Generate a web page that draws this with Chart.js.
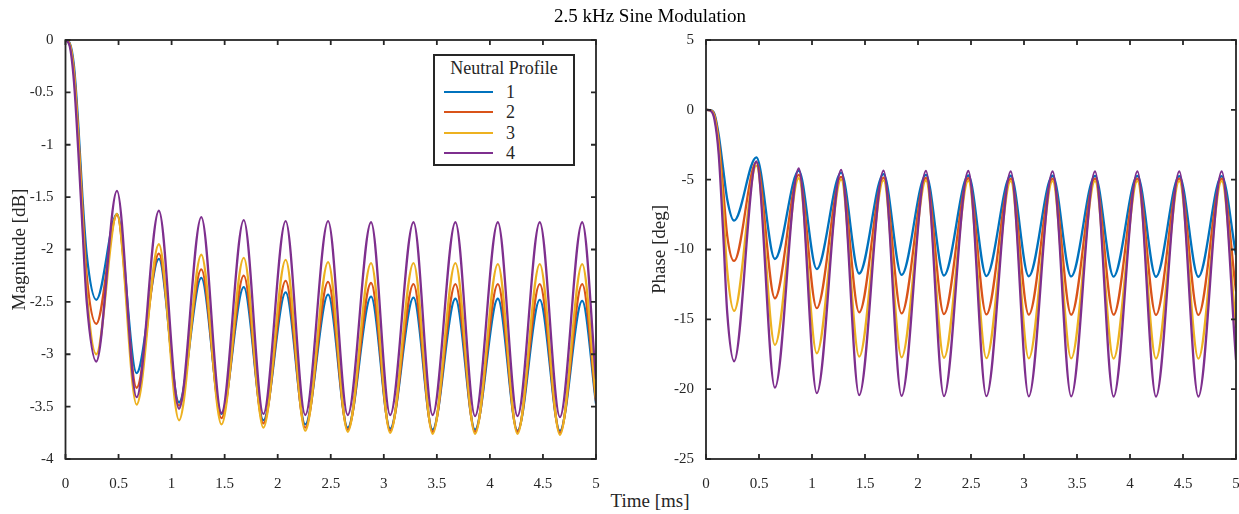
<!DOCTYPE html>
<html>
<head>
<meta charset="utf-8">
<title>2.5 kHz Sine Modulation</title>
<script src="https://cdn.jsdelivr.net/npm/chart.js@4/dist/chart.umd.min.js"></script>
<style>
  body { margin: 0; background: #fff; width: 1239px; height: 514px; overflow: hidden; position: relative; font-family: 'Liberation Serif', 'Times New Roman', serif; color: #262626; }
  canvas { position: absolute; top: 0; }
  #magChart { left: 0; }
  #phaseChart { left: 640px; }
  .txt { position: absolute; white-space: nowrap; transform: translate(-50%, -50%); }
  #title { left: 650px; top: 16px; font-size: 19px; color: #000; }
  #xlabel { left: 650px; top: 501px; font-size: 19px; }
  #legend { position: absolute; left: 433px; top: 54px; width: 142px; height: 112px; box-sizing: border-box; border: 2px solid #262626; background: #fff; }
  #legend .head { position: absolute; left: 0; width: 100%; top: 2px; text-align: center; font-size: 18px; }
  #legend .row { position: absolute; left: 0; width: 100%; height: 20px; }
  #legend .sw { position: absolute; left: 9px; width: 49px; top: 9px; height: 2px; }
  #legend .lab { position: absolute; left: 71px; top: 0; font-size: 18px; line-height: 20px; }
</style>
</head>
<body>
<canvas id="magChart" width="600" height="490"></canvas>
<canvas id="phaseChart" width="599" height="490"></canvas>
<div class="txt" id="title">2.5 kHz Sine Modulation</div>
<div class="txt" id="xlabel">Time [ms]</div>
<div id="legend"></div>
<script>
// 시간축 (ms) - 극값 위치 위주로 읽음
const timeMag = [0, 0.04, 0.08, 0.12, 0.16, 0.2, 0.29, 0.485, 0.67, 0.88, 1.07, 1.28, 1.47, 1.68, 1.865, 2.075, 2.26, 2.475, 2.66, 2.88, 3.06, 3.28, 3.46, 3.675, 3.86, 4.075, 4.26, 4.47, 4.66, 4.87, 5.0];
const timePhase = [0, 0.04, 0.08, 0.12, 0.16, 0.2, 0.265, 0.475, 0.65, 0.875, 1.045, 1.275, 1.445, 1.675, 1.845, 2.075, 2.245, 2.475, 2.645, 2.875, 3.045, 3.27, 3.445, 3.67, 3.845, 4.07, 4.245, 4.465, 4.645, 4.865, 5.0];

// Magnitude [dB]
const mag1 = [0, -0.03, -0.25, -0.8, -1.5, -2.05, -2.48, -1.66, -3.18, -2.09, -3.46, -2.27, -3.57, -2.36, -3.63, -2.41, -3.67, -2.43, -3.70, -2.45, -3.71, -2.46, -3.72, -2.47, -3.72, -2.47, -3.73, -2.48, -3.73, -2.49, -3.47];
const mag2 = [0, -0.04, -0.3, -0.88, -1.6, -2.25, -2.71, -1.67, -3.32, -2.04, -3.49, -2.19, -3.61, -2.25, -3.66, -2.30, -3.70, -2.31, -3.72, -2.32, -3.73, -2.33, -3.74, -2.33, -3.74, -2.33, -3.74, -2.33, -3.75, -2.33, -3.45];
const mag3 = [0, -0.04, -0.32, -0.92, -1.68, -2.4, -3.0, -1.66, -3.48, -1.95, -3.63, -2.05, -3.67, -2.08, -3.70, -2.10, -3.73, -2.12, -3.74, -2.13, -3.75, -2.13, -3.76, -2.13, -3.76, -2.14, -3.76, -2.14, -3.77, -2.14, -3.42];
const mag4 = [0, -0.06, -0.4, -1.05, -1.8, -2.5, -3.07, -1.44, -3.41, -1.63, -3.52, -1.69, -3.56, -1.72, -3.57, -1.73, -3.58, -1.73, -3.58, -1.74, -3.58, -1.74, -3.58, -1.74, -3.59, -1.74, -3.59, -1.74, -3.60, -1.74, -3.24];

// Phase [deg]
const phase1 = [0, -0.02, -0.3, -1.8, -4.1, -6.4, -7.93, -3.4, -10.68, -4.35, -11.4, -4.5, -11.72, -4.6, -11.82, -4.65, -11.86, -4.7, -11.9, -4.72, -11.92, -4.72, -11.93, -4.73, -11.94, -4.73, -11.95, -4.74, -11.95, -4.74, -10.4];
const phase2 = [0, -0.03, -0.4, -2.2, -5.5, -9.0, -10.82, -3.75, -13.49, -4.66, -14.2, -4.8, -14.5, -4.85, -14.58, -4.88, -14.62, -4.9, -14.65, -4.92, -14.66, -4.92, -14.67, -4.93, -14.67, -4.93, -14.68, -4.93, -14.68, -4.93, -13.0];
const phase3 = [0, -0.04, -0.5, -2.6, -6.8, -11.5, -14.4, -4.0, -16.83, -4.9, -17.43, -5.0, -17.67, -5.05, -17.72, -5.07, -17.75, -5.08, -17.78, -5.1, -17.8, -5.1, -17.8, -5.1, -17.81, -5.1, -17.81, -5.1, -17.82, -5.1, -15.6];
const phase4 = [0, -0.05, -0.7, -3.2, -8.5, -14.5, -18.0, -3.7, -19.89, -4.2, -20.29, -4.3, -20.43, -4.35, -20.48, -4.37, -20.5, -4.38, -20.5, -4.4, -20.52, -4.4, -20.52, -4.4, -20.53, -4.4, -20.53, -4.4, -20.53, -4.4, -17.9];

const profileLabels = ['1', '2', '3', '4'];
const colors = ['#0072BD', '#D95319', '#EDB120', '#7E2F8E'];

const FONT = "'Liberation Serif', 'Times New Roman', serif";
const INK = '#262626';

// MATLAB 스타일 박스 + 안쪽 눈금
const boxTicks = {
    id: 'boxTicks',
    afterDraw(chart) {
        const { ctx, chartArea: a, scales: { x, y } } = chart;
        ctx.save();
        ctx.strokeStyle = INK;
        ctx.lineWidth = 1.8;
        ctx.beginPath();
        x.ticks.forEach(t => {
            const px = x.getPixelForValue(t.value);
            ctx.moveTo(px, a.bottom); ctx.lineTo(px, a.bottom - 5);
            ctx.moveTo(px, a.top); ctx.lineTo(px, a.top + 5);
        });
        y.ticks.forEach(t => {
            const py = y.getPixelForValue(t.value);
            ctx.moveTo(a.left, py); ctx.lineTo(a.left + 5, py);
            ctx.moveTo(a.right, py); ctx.lineTo(a.right - 5, py);
        });
        ctx.stroke();
        ctx.strokeRect(a.left, a.top, a.right - a.left, a.bottom - a.top);
        ctx.restore();
    }
};

// 0.5 -> "0.5", 1.0 -> "1"
const tickText = v => String(Number(v.toFixed(2)));

function makeDatasets(times, series) {
    return series.map((vals, i) => ({
        label: profileLabels[i],
        data: times.map((t, j) => ({ x: t, y: vals[j] })),
        borderColor: colors[i],
        backgroundColor: colors[i],
        borderWidth: 2.3,
        pointRadius: 0,
        cubicInterpolationMode: 'monotone',
        fill: false,
        order: 4 - i // 4번이 맨 위에
    }));
}

function makeChart(id, times, series, yMin, yMax, yStep, yTitle, axisWidth, padRight) {
    const ctx = document.getElementById(id).getContext('2d');
    return new Chart(ctx, {
        type: 'line',
        data: { datasets: makeDatasets(times, series) },
        options: {
            responsive: false,
            animation: false,
            devicePixelRatio: 1,
            layout: { autoPadding: false, padding: { top: 40, right: padRight, left: 0, bottom: 0 } },
            plugins: { legend: { display: false }, tooltip: { enabled: false } },
            scales: {
                x: {
                    type: 'linear',
                    min: 0,
                    max: 5,
                    ticks: { stepSize: 0.5, padding: 8, color: INK, font: { family: FONT, size: 15 }, callback: tickText },
                    grid: { display: false },
                    border: { display: false },
                    afterFit(scale) {
                        scale.height = 31;
                        scale.paddingLeft = 0;
                        scale.paddingRight = 0;
                    }
                },
                y: {
                    min: yMin,
                    max: yMax,
                    ticks: { stepSize: yStep, padding: 4, color: INK, font: { family: FONT, size: 15 }, callback: tickText },
                    grid: { display: false },
                    border: { display: false },
                    title: { display: true, text: yTitle, color: INK, padding: { top: 9, bottom: 0 }, font: { family: FONT, size: 19 } },
                    afterFit(scale) {
                        scale.width = axisWidth;
                        scale.paddingTop = 0;
                        scale.paddingBottom = 0;
                    }
                }
            }
        },
        plugins: [boxTicks]
    });
}

document.addEventListener('DOMContentLoaded', function() {
    makeChart('magChart', timeMag, [mag1, mag2, mag3, mag4], -4, 0, 0.5, 'Magnitude [dB]', 65.5, 4);
    makeChart('phaseChart', timePhase, [phase1, phase2, phase3, phase4], -25, 5, 5, 'Phase [deg]', 66, 3);

    // 범례 (Neutral Profile)
    const legend = document.getElementById('legend');
    let html = '<div class="head">Neutral Profile</div>';
    profileLabels.forEach((lab, i) => {
        const top = 26 + i * 20.4;
        html += '<div class="row" style="top:' + top + 'px">' +
                '<div class="sw" style="background:' + colors[i] + '"></div>' +
                '<div class="lab">' + lab + '</div></div>';
    });
    legend.innerHTML = html;
});
</script>
</body>
</html>
